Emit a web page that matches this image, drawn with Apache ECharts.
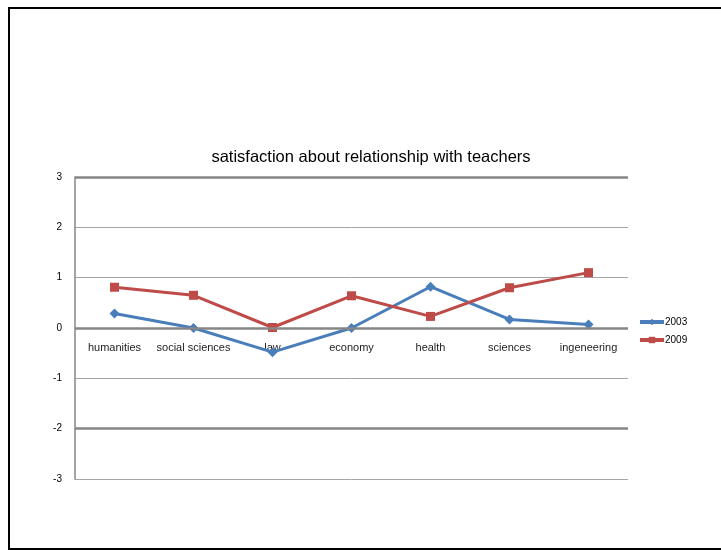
<!DOCTYPE html>
<html>
<head>
<meta charset="utf-8">
<script src="https://cdn.jsdelivr.net/npm/echarts@6/dist/echarts.min.js"></script>
<style>
  html, body { margin: 0; padding: 0; background: #fff; }
  #frame {
    position: absolute; left: 8px; top: 7px; width: 760px; height: 539px;
    border-left: 2px solid #000; border-top: 2px solid #000; border-bottom: 2px solid #000;
  }
  #chart { position: absolute; left: 0; top: 0; width: 721px; height: 550px; }
</style>
</head>
<body>
<div id="frame"></div>
<div id="chart"></div>
<script>
// data
const categories = ['humanities', 'social sciences', 'law', 'economy', 'health', 'sciences', 'ingeneering'];
const values2003 = [0.29, 0.0, -0.48, 0.0, 0.82, 0.17, 0.07];
const values2009 = [0.81, 0.65, 0.01, 0.64, 0.23, 0.80, 1.10];
const yTicks = [-3, -2, -1, 0, 1, 2, 3];
const heavyLines = [3, 0, -2]; // these grid lines look darker in the original

const font = '"Liberation Sans", Arial, sans-serif';
const plotH = 302;

const myChart = echarts.init(document.getElementById('chart'));

myChart.setOption({
  animation: false,
  title: {
    text: 'satisfaction about relationship with teachers',
    left: 366,
    top: 144,
    textAlign: 'center',
    textStyle: { fontFamily: font, fontSize: 16.5, fontWeight: 'normal', color: '#000' }
  },
  legend: {
    orient: 'vertical',
    left: 633,
    top: 312,
    itemWidth: 24,
    itemHeight: 8,
    itemGap: 8,
    lineStyle: { width: 4 },
    textStyle: { fontFamily: font, fontSize: 10, color: '#000', padding: [0, 0, 0, -4] },
    data: ['2003', '2009']
  },
  grid: { left: 75, right: 93, top: 177, bottom: 71 },
  xAxis: {
    type: 'category',
    data: categories,
    boundaryGap: true,
    // labels sit just under the zero line, so move the whole axis up to it
    offset: -plotH / 2,
    axisLine: { onZero: false, show: false },
    axisTick: { show: false },
    axisLabel: { fontFamily: font, fontSize: 11, color: '#222', margin: 14, interval: 0 },
    splitLine: { show: false }
  },
  yAxis: {
    type: 'value',
    min: yTicks[0],
    max: yTicks[yTicks.length - 1],
    interval: 1,
    axisLine: { show: true, lineStyle: { color: '#868686', width: 1.5 } },
    axisTick: { show: false },
    axisLabel: { fontFamily: font, fontSize: 10, color: '#000', margin: 13 },
    splitLine: { lineStyle: { color: '#a6a6a6', width: 1 } }
  },
  series: [
    {
      name: '2003',
      type: 'line',
      data: values2003,
      symbol: 'diamond',
      symbolSize: 10,
      lineStyle: { color: '#4a7ebb', width: 3 },
      itemStyle: { color: '#4a7ebb' },
      z: 3,
      markLine: {
        silent: true,
        symbol: 'none',
        label: { show: false },
        lineStyle: { color: '#868686', width: 2.5, type: 'solid' },
        data: heavyLines.map(v => ({ yAxis: v }))
      }
    },
    {
      name: '2009',
      type: 'line',
      data: values2009,
      symbol: 'rect',
      symbolSize: 9,
      lineStyle: { color: '#be4b48', width: 3 },
      itemStyle: { color: '#be4b48' },
      z: 4
    }
  ]
});
</script>
</body>
</html>
